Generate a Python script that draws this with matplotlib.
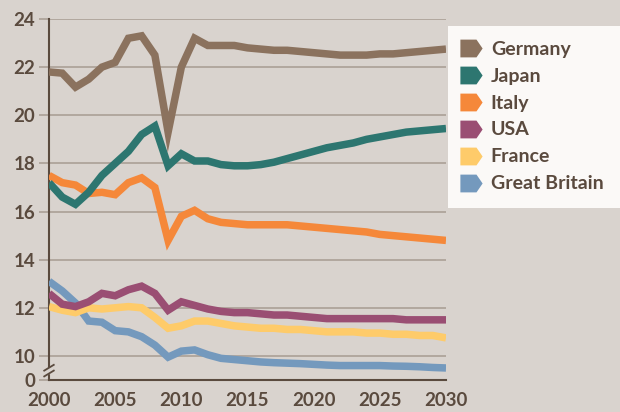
import numpy as np
import matplotlib
matplotlib.use("Agg")
import matplotlib.pyplot as plt
from matplotlib.lines import Line2D
from matplotlib.patches import Rectangle
from matplotlib.path import Path

years = list(range(2000, 2031))

germany = [21.8, 21.75, 21.17, 21.5, 22.0, 22.2, 23.2, 23.3, 22.5, 19.3, 22.0, 23.2, 22.9,
           22.9, 22.9, 22.8, 22.75, 22.7, 22.7, 22.65, 22.6, 22.55, 22.5, 22.5, 22.5,
           22.55, 22.55, 22.6, 22.65, 22.7, 22.75]
japan = [17.2, 16.6, 16.3, 16.8, 17.5, 18.0, 18.5, 19.2, 19.55, 17.9, 18.4, 18.1, 18.1,
         17.95, 17.9, 17.9, 17.95, 18.05, 18.2, 18.35, 18.5, 18.65, 18.75, 18.85, 19.0,
         19.1, 19.2, 19.3, 19.35, 19.4, 19.45]
italy = [17.5, 17.2, 17.1, 16.75, 16.8, 16.7, 17.2, 17.4, 17.0, 14.8, 15.8, 16.05, 15.7,
         15.55, 15.5, 15.45, 15.45, 15.45, 15.45, 15.4, 15.35, 15.3, 15.25, 15.2, 15.15,
         15.05, 15.0, 14.95, 14.9, 14.85, 14.8]
usa = [12.6, 12.15, 12.05, 12.25, 12.6, 12.5, 12.75, 12.9, 12.6, 11.9, 12.25, 12.1, 11.95,
       11.85, 11.8, 11.8, 11.75, 11.7, 11.7, 11.65, 11.6, 11.55, 11.55, 11.55, 11.55,
       11.55, 11.55, 11.5, 11.5, 11.5, 11.5]
france = [12.05, 11.9, 11.8, 12.0, 11.95, 12.0, 12.05, 12.0, 11.6, 11.15, 11.25, 11.45, 11.45,
          11.35, 11.25, 11.2, 11.15, 11.15, 11.1, 11.1, 11.05, 11.0, 11.0, 11.0, 10.95,
          10.95, 10.9, 10.9, 10.85, 10.85, 10.75]
britain = [13.1, 12.7, 12.2, 11.45, 11.4, 11.05, 11.0, 10.8, 10.45, 9.95, 10.2, 10.25, 10.05,
           9.9, 9.85, 9.8, 9.75, 9.72, 9.7, 9.68, 9.65, 9.62, 9.6, 9.6, 9.6,
           9.6, 9.58, 9.57, 9.55, 9.52, 9.5]

names = ["Germany", "Japan", "Italy", "USA", "France", "Great Britain"]
series = [germany, japan, italy, usa, france, britain]
colors = ["#8b725e", "#2d7670", "#f5883a", "#9a4e73", "#fecb6a", "#7499bd"]

yticks = [9.0, 10, 12, 14, 16, 18, 20, 22, 24]
yticklabels = ["0", "10", "12", "14", "16", "18", "20", "22", "24"]
xticks = [2000, 2005, 2010, 2015, 2020, 2025, 2030]

bg = "#d9d3ce"
dark = "#5a4a3e"
grid_c = "#aea49b"

plt.rcParams['font.family'] = ['Lato', 'DejaVu Sans']

fig = plt.figure(figsize=(6.2, 4.12), dpi=100, facecolor=bg)
ax = fig.add_axes([49 / 620, 32 / 412, 397 / 620, 361 / 412])
ax.set_facecolor(bg)

# draw lines (Great Britain first so Germany ends on top)
for name, vals, c in reversed(list(zip(names, series, colors))):
    ax.plot(years, vals, color=c, lw=5.4, solid_joinstyle='miter', solid_capstyle='butt', zorder=3)

ax.set_xlim(2000, 2030)
ax.set_ylim(9.0, 24)
for y in yticks[1:]:
    ax.axhline(y, color=grid_c, lw=1.3, zorder=1)
ax.set_yticks(yticks)
ax.set_yticklabels(yticklabels)
ax.set_xticks(xticks)
ax.tick_params(axis='y', length=7, width=1.3, color=grid_c, labelsize=13.5, labelcolor=dark, pad=3)
ax.tick_params(axis='x', length=0, labelsize=13.5, labelcolor=dark, pad=9)
for lab in ax.get_xticklabels() + ax.get_yticklabels():
    lab.set_fontweight('bold')

for s in ['top', 'right']:
    ax.spines[s].set_visible(False)
for s in ['left', 'bottom']:
    ax.spines[s].set_color(dark)
    ax.spines[s].set_linewidth(1.5)

# axis break marks
bx = [-0.012, 0.012]
for yb in [0.018, 0.034]:
    ax.plot(bx, [yb - 0.008, yb + 0.008], transform=ax.transAxes, color=dark, lw=1.3,
            clip_on=False, zorder=5)
ax.add_patch(Rectangle((-0.006, 0.02), 0.012, 0.012, transform=ax.transAxes, color=bg,
                       clip_on=False, zorder=4))

# legend box
fig.patches.append(Rectangle((448 / 620, (412 - 208) / 412), 1 - 448 / 620, 182 / 412,
                             transform=fig.transFigure, facecolor="#fbf9f7", edgecolor='none'))
arrow = Path([(-1, -0.8), (0.45, -0.8), (1, 0), (0.45, 0.8), (-1, 0.8), (-1, -0.8)],
             [Path.MOVETO, Path.LINETO, Path.LINETO, Path.LINETO, Path.LINETO, Path.CLOSEPOLY])
handles = [Line2D([], [], linestyle='none', marker=arrow, markersize=16, color=c,
                  markeredgewidth=0) for c in colors]
leg = fig.legend(handles, names, loc='upper left', bbox_to_anchor=(451 / 620, 1 - 31 / 412),
                 frameon=False, prop={'size': 14, 'weight': 'bold'}, labelcolor=dark,
                 handlelength=1.1, handletextpad=0.45, labelspacing=0.51, borderpad=0)

fig.savefig("out.png", dpi=100, facecolor=bg)
